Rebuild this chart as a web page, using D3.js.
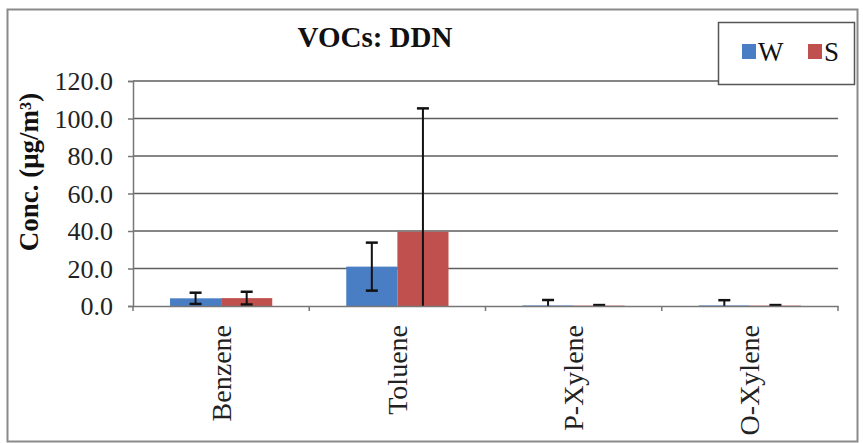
<!DOCTYPE html>
<html>
<head>
<meta charset="utf-8">
<script src="https://cdn.jsdelivr.net/npm/d3@7"></script>
<style>
  html, body { margin: 0; padding: 0; background: #fff; }
  svg { display: block; }
  svg text { font-family: "Liberation Serif", "Tinos", "Times New Roman", "DejaVu Serif", "Noto Serif", serif; }
</style>
</head>
<body>
<svg id="chart" width="863" height="443"></svg>
<script>
// ---- data ----
const categories = ["Benzene", "Toluene", "P-Xylene", "O-Xylene"];
const seriesNames = ["W", "S"];
const valuesW = [4.1, 21.0, 0.3, 0.3];
const valuesS = [4.2, 39.6, 0.2, 0.2];
const errorsW = [3.0, 12.8, 2.9, 2.8];
const errorsS = [3.4, 65.8, 0.3, 0.3];
const yTicks = [0, 20, 40, 60, 80, 100, 120];
const colors = ["#4A7EC4", "#C0504D"];

const FONT = '"Liberation Serif", "Tinos", "Times New Roman", "DejaVu Serif", "Noto Serif", serif';
const svg = d3.select("#chart");
const W = 863, H = 443;
const margin = { left: 133, right: 863 - 838, top: 81, bottom: 443 - 306 };

// outer frame
svg.append("rect").attr("x", 7.5).attr("y", 9.5).attr("width", 850).attr("height", 432)
  .attr("fill", "#fff").attr("stroke", "#8a8a8a").attr("stroke-width", 2);

const x0 = d3.scaleBand().domain(categories)
  .range([margin.left, W - margin.right]).paddingInner(0.42).paddingOuter(0.21);
const x1 = d3.scaleBand().domain(seriesNames).range([0, x0.bandwidth()]);
const y = d3.scaleLinear().domain([0, 120]).range([H - margin.bottom, margin.top]);

// gridlines
svg.append("g").selectAll("line").data(yTicks.filter(d => d > 0)).join("line")
  .attr("x1", margin.left).attr("x2", W - margin.right)
  .attr("y1", d => y(d)).attr("y2", d => y(d))
  .attr("stroke", "#5e5e5e").attr("stroke-width", 1.6);

// y axis
const yAxis = d3.axisLeft(y).tickValues(yTicks).tickFormat(d3.format(".1f")).tickSize(5).tickPadding(15);
const gy = svg.append("g").attr("transform", `translate(${margin.left},0)`).call(yAxis)
  .attr("font-family", null).attr("font-size", null);
gy.select(".domain").attr("stroke", "#777").attr("stroke-width", 1.5);
gy.selectAll(".tick line").attr("stroke", "#777").attr("stroke-width", 1.5);
gy.selectAll(".tick text").style("font-family", FONT)
  .style("font-size", "26px").attr("fill", "#222").attr("dy", "0.34em");

// data rows
const rows = categories.map((c, i) => ({
  cat: c,
  items: [
    { s: "W", v: valuesW[i], e: errorsW[i] },
    { s: "S", v: valuesS[i], e: errorsS[i] }
  ]
}));

// bars
const groups = svg.append("g").selectAll("g").data(rows).join("g")
  .attr("transform", d => `translate(${x0(d.cat)},0)`);
groups.selectAll("rect").data(d => d.items).join("rect")
  .attr("x", d => x1(d.s)).attr("width", x1.bandwidth())
  .attr("y", d => y(d.v)).attr("height", d => y(0) - y(d.v))
  .attr("fill", d => colors[seriesNames.indexOf(d.s)]);

// x axis
const xAxis = d3.axisBottom(x0).tickSize(0).tickPadding(0);
const gx = svg.append("g").attr("transform", `translate(0,${y(0)})`).call(xAxis)
  .attr("font-family", null).attr("font-size", null);
gx.select(".domain").attr("stroke", "#777").attr("stroke-width", 1.6);
gx.selectAll(".tick text")
  .style("font-family", FONT)
  .style("font-size", "28px").attr("fill", "#222")
  .attr("text-anchor", "end")
  .attr("transform", "rotate(-90)")
  .attr("x", -19).attr("y", 0).attr("dy", "0.34em");
// boundary tick marks
svg.append("g").selectAll("line").data(d3.range(categories.length + 1)).join("line")
  .attr("x1", i => margin.left + i * x0.step()).attr("x2", i => margin.left + i * x0.step())
  .attr("y1", y(0)).attr("y2", y(0) + 5)
  .attr("stroke", "#777").attr("stroke-width", 1.5);

// error bars
const eb = groups.selectAll("g.err").data(d => d.items).join("g").attr("class", "err");
eb.append("line")
  .attr("x1", d => x1(d.s) + x1.bandwidth() / 2).attr("x2", d => x1(d.s) + x1.bandwidth() / 2)
  .attr("y1", d => y(d.v + d.e)).attr("y2", d => y(Math.max(0, d.v - d.e)))
  .attr("stroke", "#111").attr("stroke-width", 2);
eb.append("line")
  .attr("x1", d => x1(d.s) + x1.bandwidth() / 2 - 6).attr("x2", d => x1(d.s) + x1.bandwidth() / 2 + 6)
  .attr("y1", d => y(d.v + d.e)).attr("y2", d => y(d.v + d.e))
  .attr("stroke", "#111").attr("stroke-width", 2.5);
eb.filter(d => d.v - d.e >= 0).append("line")
  .attr("x1", d => x1(d.s) + x1.bandwidth() / 2 - 6).attr("x2", d => x1(d.s) + x1.bandwidth() / 2 + 6)
  .attr("y1", d => y(d.v - d.e)).attr("y2", d => y(d.v - d.e))
  .attr("stroke", "#111").attr("stroke-width", 2.5);

// title
svg.append("text").attr("x", 375).attr("y", 47).attr("text-anchor", "middle")
  .style("font-family", FONT)
  .style("font-weight", "bold").style("font-size", "29px").attr("fill", "#111")
  .text("VOCs: DDN");

// y label
svg.append("text").attr("transform", "translate(38,172) rotate(-90)").attr("text-anchor", "middle")
  .style("font-family", FONT)
  .style("font-weight", "bold").style("font-size", "27px").attr("fill", "#111")
  .text("Conc. (μg/m³)");

// legend
const lg = svg.append("g");
lg.append("rect").attr("x", 718.5).attr("y", 22.5).attr("width", 136).attr("height", 62)
  .attr("fill", "#fff").attr("stroke", "#555").attr("stroke-width", 1.5);
const li = lg.selectAll("g").data(seriesNames).join("g")
  .attr("transform", (d, i) => `translate(${742 + i * 66},0)`);
li.append("rect").attr("x", 0).attr("y", 44).attr("width", 14).attr("height", 15)
  .attr("fill", (d, i) => colors[i]);
li.append("text").attr("x", 16).attr("y", 61)
  .style("font-family", FONT)
  .style("font-size", "27px").attr("fill", "#111").text(d => d);
</script>
</body>
</html>
